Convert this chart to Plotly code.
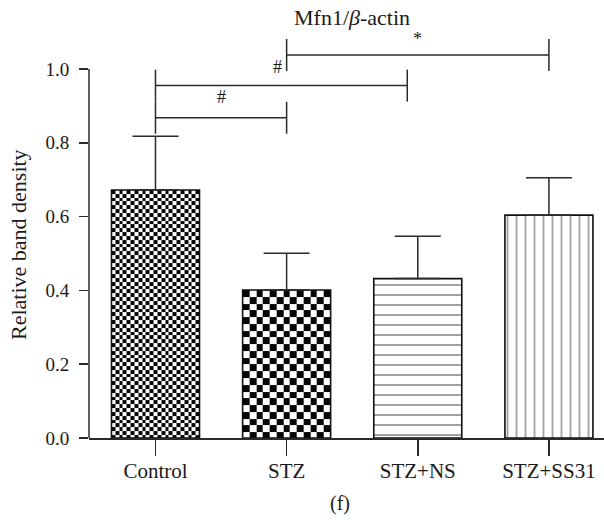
import plotly.graph_objects as go

# ---------------- data ----------------
categories = ["Control", "STZ", "STZ+NS", "STZ+SS31"]
means = [0.672, 0.401, 0.432, 0.604]
sds = [0.146, 0.100, 0.115, 0.101]
y_ticks = [0.0, 0.2, 0.4, 0.6, 0.8, 1.0]
y_tick_labels = ["0.0", "0.2", "0.4", "0.6", "0.8", "1.0"]
# significance brackets: start category, end position, bracket height, symbol
sig_start = [0, 0, 1]
sig_end = [1, 1.92, 3]
sig_height = [0.868, 0.955, 1.038]
sig_symbol = ["#", "#", "*"]
sig_label_x = [0.5, 0.93, 2.0]
sig_label_y = [0.925, 1.005, 1.08]
title_text = "Mfn1/<i>β</i>-actin"
y_title = "Relative band density"
panel_label = "(f)"

# ---------------- layout constants ----------------
W, H = 604, 522
ML, MR, MT, MB = 89, 0, 0, 84
X_RANGE = [-0.507, 3.42]
Y_RANGE = [0, 1.187]
BAR_W = 0.671
PLOT_W = W - ML - MR
PLOT_H = H - MT - MB
PX_X = PLOT_W / (X_RANGE[1] - X_RANGE[0])
PX_Y = PLOT_H / (Y_RANGE[1] - Y_RANGE[0])
FONT = "Liberation Serif, Times New Roman, serif"
INK = "#1a1a1a"
LINE = "#2a2a2a"
xpos = list(range(len(categories)))

fig = go.Figure()


def checker_trace(i, ncols):
    """Checkerboard texture filling bar i (texture only)."""
    x_left = xpos[i] - BAR_W / 2
    dx = BAR_W / ncols
    xe = [x_left + k * dx for k in range(ncols + 1)]
    dy = dx * PX_X / PX_Y
    ye = []
    y = means[i]
    while y > 1e-9:
        ye.append(y)
        y -= dy
    ye.append(0.0)
    ye = ye[::-1]
    nrows = len(ye) - 1
    z = [[(r + c + nrows) % 2 for c in range(ncols)] for r in range(nrows)]
    return go.Heatmap(
        x=xe, y=ye, z=z, zmin=0, zmax=1, zsmooth=False,
        colorscale=[[0, "white"], [1, "#050505"]],
        showscale=False, hoverinfo="skip",
    )


fig.add_trace(checker_trace(0, 23))
fig.add_trace(checker_trace(1, 13))

clear = "rgba(0,0,0,0)"
fig.add_trace(go.Bar(
    x=xpos, y=means, width=BAR_W,
    marker=dict(
        color=[clear, clear, "white", "white"],
        line=dict(color="#111111", width=1.6),
        pattern=dict(
            shape=["", "", "-", "|"],
            size=[8, 8, 10, 9],
            solidity=[0.2, 0.2, 0.2, 0.2],
            fgcolor="#000000",
            bgcolor=[clear, clear, "white", "white"],
        ),
    ),
    error_y=dict(
        type="data", array=sds, arrayminus=[0] * len(sds), symmetric=False,
        thickness=1.5, width=23, color=LINE,
    ),
    showlegend=False,
))

shapes = []
# y axis line (only up to 1.0)
shapes.append(dict(type="line", xref="paper", yref="y", x0=0, x1=0,
                   y0=0, y1=y_ticks[-1], line=dict(color=LINE, width=1.5)))
half = 16 / PX_Y
for s, e, h in zip(sig_start, sig_end, sig_height):
    shapes.append(dict(type="line", xref="x", yref="y", x0=s, x1=e, y0=h, y1=h,
                       line=dict(color=LINE, width=1.5)))
    for xx in (s, e):
        shapes.append(dict(type="line", xref="x", yref="y", x0=xx, x1=xx,
                           y0=h - half, y1=h + half,
                           line=dict(color=LINE, width=1.5)))

annotations = []
for lx, ly, sym in zip(sig_label_x, sig_label_y, sig_symbol):
    annotations.append(dict(x=lx, y=ly, xref="x", yref="y", text=sym,
                            xanchor="center", yanchor="middle",
                            showarrow=False, font=dict(family=FONT, size=18, color=INK)))
annotations.append(dict(x=1.5, y=1.139, xref="x", yref="y", text=title_text,
                        xanchor="center", yanchor="middle",
                        showarrow=False, font=dict(family=FONT, size=22, color=INK)))
annotations.append(dict(x=(18 - ML) / PLOT_W, y=0.523, xref="paper", yref="y",
                        xanchor="center", yanchor="middle",
                        text=y_title, textangle=-90, showarrow=False,
                        font=dict(family=FONT, size=22, color=INK)))
annotations.append(dict(x=(340 - ML) / PLOT_W, y=(PLOT_H - 503) / PLOT_H,
                        xref="paper", yref="paper", text=panel_label,
                        xanchor="center", yanchor="middle",
                        showarrow=False, font=dict(family=FONT, size=20, color=INK)))

fig.update_layout(
    width=W, height=H,
    margin=dict(l=ML, r=MR, t=MT, b=MB),
    plot_bgcolor="white", paper_bgcolor="white",
    showlegend=False, hovermode=False,
    shapes=shapes, annotations=annotations,
    xaxis=dict(
        range=X_RANGE, tickvals=xpos, ticktext=categories,
        showline=True, linecolor=LINE, linewidth=1.5,
        ticks="outside", ticklen=16, tickwidth=1.5, tickcolor=LINE,
        showgrid=False, zeroline=False, automargin=False,
        ticklabelstandoff=-3,
        tickfont=dict(family=FONT, size=21, color=INK),
    ),
    yaxis=dict(
        range=Y_RANGE, tickvals=y_ticks, ticktext=y_tick_labels,
        showline=False, ticks="outside", ticklen=9, tickwidth=1.5,
        tickcolor=LINE, showgrid=False, zeroline=False, automargin=False,
        ticklabelstandoff=6,
        tickfont=dict(family=FONT, size=19, color=INK),
    ),
)

fig.write_html("out.html", config={"displayModeBar": False, "staticPlot": True},
               post_script="document.body.style.margin='0px';")
